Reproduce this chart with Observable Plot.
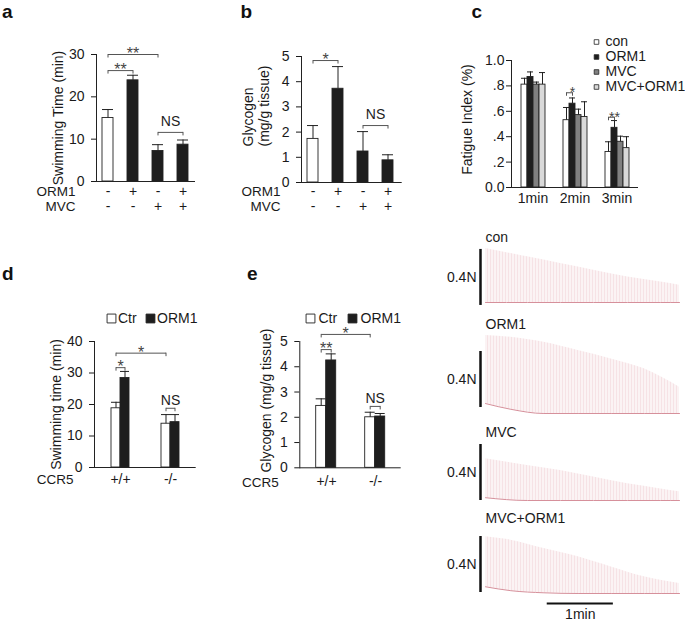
<!DOCTYPE html>
<html><head><meta charset="utf-8">
<script src="https://cdn.jsdelivr.net/npm/d3@7"></script>
<script src="https://cdn.jsdelivr.net/npm/@observablehq/plot@0.6"></script>
<style>
body{margin:0;background:#fff;}
#fig{position:relative;width:685px;height:621px;overflow:hidden;background:#fff;font-family:"Liberation Sans",Arial,sans-serif;}
#fig svg{position:absolute;left:0;top:0;}
.lbl{position:absolute;font-weight:bold;font-size:19px;line-height:1;color:#111;}
</style></head><body><div id="fig"></div>
<script>
// ---------------- DATA ----------------
// Panel a
const aCats = ["1","2","3","4"];
const aORM1 = ["-","+","-","+"];
const aMVC  = ["-","-","+","+"];
const aMean = [15.0, 23.9, 7.2, 8.7];
const aSEM  = [2.0, 1.2, 1.5, 1.1];
const aTicks = [0,10,20,30];
const aBrackets = [["1","3",30,"**"],["1","2",26.2,"**"],["3","4",11.6,"NS"]];
// Panel b
const bCats = ["1","2","3","4"];
const bORM1 = ["-","+","-","+"];
const bMVC  = ["-","-","+","+"];
const bMean = [1.73, 3.72, 1.23, 0.88];
const bSEM  = [0.53, 0.88, 0.79, 0.22];
const bTicks = [0,1,2,3,4,5];
const bBrackets = [["1","2",4.84,"*"],["3","4",2.26,"NS"]];
// Panel c
const cGroups = ["1min","2min","3min"];
const cSeries = ["con","ORM1","MVC","MVC+ORM1"];
const cMeanCon = [0.81, 0.53, 0.28];
const cMeanORM1 = [0.87, 0.66, 0.47];
const cMeanMVC = [0.81, 0.57, 0.36];
const cMeanMVCORM1 = [0.81, 0.555, 0.31];
const cSemCon = [0.05, 0.10, 0.08];
const cSemORM1 = [0.04, 0.045, 0.057];
const cSemMVC = [0.02, 0.047, 0.044];
const cSemMVCORM1 = [0.095, 0.12, 0.09];
const cTicks = [0, 0.2, 0.4, 0.6, 0.8, 1.0];
const cTickLabels = ["0.0", ".2", ".4", ".6", ".8", "1.0"];
const cBrackets = [["2min","con","2min","ORM1",0.746,"*"],["3min","con","3min","ORM1",0.553,"**"]];
// Panel d
const dGroups = ["+/+","-/-"];
const dSeries = ["Ctr","ORM1"];
const dCtrMean = [18.8, 13.9];
const dCtrSem  = [1.9, 2.9];
const dOrmMean = [28.4, 14.4];
const dOrmSem  = [2.1, 2.4];
const dTicks = [0,10,20,30,40];
const dBrackets = [["+/+","Ctr","-/-","Ctr",36.3,"*"],["+/+","Ctr","+/+","ORM1",31.7,"*"],["-/-","Ctr","-/-","ORM1",18.8,"NS"]];
// Panel e
const eGroups = ["+/+","-/-"];
const eSeries = ["Ctr","ORM1"];
const eCtrMean = [2.45, 2.0];
const eCtrSem  = [0.28, 0.2];
const eOrmMean = [4.25, 2.03];
const eOrmSem  = [0.26, 0.12];
const eTicks = [0,1,2,3,4,5];
const eBrackets = [["+/+","Ctr","-/-","Ctr",5.28,"*"],["+/+","Ctr","+/+","ORM1",4.68,"**"],["-/-","Ctr","-/-","ORM1",2.43,"NS"]];
// Force traces (N above final baseline, time in s)
const conT = [0, 38, 68, 98, 129, 159, 176];
const conPeak = [0.386, 0.326, 0.279, 0.231, 0.183, 0.147, 0.124];
const conBase = [0, 0, 0, 0, 0, 0, 0];
const orm1T = [0, 23, 53, 84, 114, 144, 176];
const orm1Peak = [0.557, 0.545, 0.509, 0.45, 0.39, 0.319, 0.188];
const orm1Base = [0.071, 0.03, 0, 0, 0, 0, 0];
const mvcT = [0, 38, 68, 98, 129, 159, 176];
const mvcPeak = [0.298, 0.25, 0.214, 0.167, 0.119, 0.083, 0.062];
const mvcBase = [0.02, 0, 0, 0, 0, 0, 0];
const mvcOrm1T = [0, 23, 53, 84, 114, 144, 176];
const mvcOrm1Peak = [0.405, 0.381, 0.321, 0.262, 0.19, 0.119, 0.072];
const mvcOrm1Base = [0.048, 0.02, 0.005, 0, 0, 0, 0];
const traceNames = ["con","ORM1","MVC","MVC+ORM1"];
const forceScale = 0.4, forceScaleLabel = "0.4N";
const timeScale = 60, timeScaleLabel = "1min", timeScaleStart = 56;

// ---------------- HELPERS ----------------
const FW = 685, FH = 621;
const FONT = '"Liberation Sans", Arial, Helvetica, sans-serif';
const fig = document.getElementById("fig");
const baseStyle = {background:"transparent", fontFamily:FONT, fontSize:"14px", color:"#1a1a1a", overflow:"visible"};
const INK = "#222";
const intFmt = d => String(d);
function box(L,R,T,B){ return {width:FW, height:FH, marginLeft:L, marginRight:FW-R, marginTop:T, marginBottom:FH-B}; }
function add(svg){ fig.appendChild(svg); return svg; }
function letter(ch, x, y){ const d=document.createElement("div"); d.className="lbl"; d.textContent=ch; d.style.left=x+"px"; d.style.top=y+"px"; fig.appendChild(d); }

function overlay(o){
  const dropU = o.ymax*3.5/(o.B-o.T);
  const br = o.brackets.map(b => ({...b, tx: b.tx ?? (b.x1+b.x2)/2}));
  const ast = br.filter(b=>b.label!=="NS"), ns = br.filter(b=>b.label==="NS");
  const marks = [
    Plot.frame({anchor:"left", stroke:INK}),
    Plot.ruleY([0], {stroke:INK}),
    Plot.link(br, {x1:"x1", x2:"x2", y1:"y", y2:"y", stroke:"#555"}),
    Plot.ruleX(br, {x:"x1", y1:"y", y2:d=>d.y-dropU, stroke:"#555"}),
    Plot.ruleX(br, {x:"x2", y1:"y", y2:d=>d.y-dropU, stroke:"#555"}),
    Plot.text(ast, {x:"tx", y:"y", text:"label", lineAnchor:"bottom", dy:o.astDy ?? 4.5, fontSize:o.astSize ?? 16, fill:"#444"}),
    Plot.text(ns, {x:"tx", y:"y", text:"label", lineAnchor:"bottom", dy:o.nsDy ?? -6, fill:INK}),
    ...o.labels.map(l => Plot.text([l.text], {frameAnchor:"left", rotate:-90, dx:l.dx, dy:l.dy, textAnchor:l.anchor||"middle", lineAnchor:"middle"})),
    ...(o.extra||[])
  ];
  return add(Plot.plot({...box(o.L,o.R,o.T,o.B), style:baseStyle,
    x:{type:"identity", axis:null},
    y:{domain:[0,o.ymax], ticks:o.ticks, tickFormat:o.tickFormat ?? intFmt, tickSize:5, tickPadding:o.tickPadding ?? 7, label:null},
    marks}));
}

// ---------------- PANELS a, b ----------------
function simplePanel(p){
  const rows = p.cats.map((c,i)=>({cat:c, orm1:p.orm1[i], mvc:p.mvc[i], mean:p.mean[i], sem:p.sem[i],
    grp:(p.orm1[i]==="-"&&p.mvc[i]==="-")?"control":"treated"}));
  const plot = add(Plot.plot({...box(p.L,p.R,p.T,p.B), style:baseStyle,
    x:{type:"band", domain:p.cats, range:p.xr, paddingInner:p.pin, paddingOuter:0, axis:null},
    y:{domain:[0,p.ymax], axis:null},
    color:{domain:["control","treated"], range:["#ffffff","#1e1e1e"]},
    marks:[
      Plot.barY(rows, {x:"cat", y:"mean", fill:"grp", stroke:INK, strokeWidth:0.9}),
      Plot.ruleX(rows, {x:"cat", y1:"mean", y2:d=>d.mean+d.sem, stroke:INK}),
      Plot.tickY(rows, {x:"cat", y:d=>d.mean+d.sem, stroke:INK}),
      Plot.text(rows, {x:"cat", text:"orm1", frameAnchor:"bottom", dy:p.r1}),
      Plot.text(rows, {x:"cat", text:"mvc", frameAnchor:"bottom", dy:p.r2}),
      Plot.text(["ORM1"], {frameAnchor:"bottom-left", dx:p.rowDx, dy:p.r1, textAnchor:"end", fontSize:13.5}),
      Plot.text(["MVC"], {frameAnchor:"bottom-left", dx:p.rowDx, dy:p.r2, textAnchor:"end", fontSize:13.5})
    ]}));
  const xs = plot.scale("x");
  const pos = c => xs.apply(c) + xs.bandwidth/2;
  overlay({L:p.L,R:p.R,T:p.T,B:p.B, ymax:p.ymax, ticks:p.ticks,
    brackets:p.brackets.map(([f,t,y,l])=>({x1:pos(f), x2:pos(t), y, label:l})),
    labels:p.labels, nsDy:p.nsDy});
}
simplePanel({cats:aCats, orm1:aORM1, mvc:aMVC, mean:aMean, sem:aSEM, ticks:aTicks, brackets:aBrackets,
  L:96, R:195, T:54, B:181, ymax:30, xr:[101.7,188], pin:0.56, r1:14, r2:29, rowDx:-21, nsDy:-6.5,
  labels:[{text:"Swimming Time (min)", dx:-38, dy:0}]});
simplePanel({cats:bCats, orm1:bORM1, mvc:bMVC, mean:bMean, sem:bSEM, ticks:bTicks, brackets:bBrackets,
  L:301, R:401.7, T:56, B:182, ymax:5, xr:[306,393.7], pin:0.55, r1:13.5, r2:28.5, rowDx:-21, nsDy:-6.5,
  labels:[{text:"Glycogen", dx:-53, dy:27, anchor:"start"},{text:"(mg/g tissue)", dx:-37, dy:27, anchor:"start"}]});

// ---------------- GROUPED PANELS (c, d, e) ----------------
function groupedPanel(p){
  const rows = p.groups.flatMap((g,gi)=>p.series.map((s,si)=>({g, s, mean:p.means[si][gi], sem:p.sems[si][gi]})));
  const plot = add(Plot.plot({...box(p.L,p.R,p.T,p.B), style:baseStyle,
    fx:{domain:p.groups, range:p.fxr, paddingInner:p.pin, paddingOuter:0, axis:null, label:null},
    x:{domain:p.series, paddingInner:0, paddingOuter:0, axis:null},
    y:{domain:[0,p.ymax], axis:null},
    color:{domain:p.series, range:p.colors},
    marks:[
      Plot.barY(rows, {fx:"g", x:"s", y:"mean", fill:"s", stroke:INK, strokeWidth:0.9}),
      Plot.ruleX(rows, {fx:"g", x:"s", y1:"mean", y2:d=>d.mean+d.sem, stroke:INK}),
      Plot.tickY(rows, {fx:"g", x:"s", y:d=>d.mean+d.sem, stroke:INK}),
      Plot.text(p.groups, {fx:d=>d, text:d=>d, frameAnchor:"bottom", dy:p.gDy})
    ]}));
  const fxs = plot.scale("fx"), xs = plot.scale("x");
  const x0 = Math.min(...xs.range);
  const pos = (g,s) => fxs.apply(g) + xs.apply(s) - x0 + xs.bandwidth/2;
  overlay({L:p.L,R:p.R,T:p.T,B:p.B, ymax:p.ymax, ticks:p.ticks, tickFormat:p.tickFormat, tickPadding:p.tickPadding,
    brackets:p.brackets.map(([g1,s1,g2,s2,y,l])=>({x1:pos(g1,s1), x2:pos(g2,s2), y, label:l, tx:p.textAtEnd?pos(g2,s2):undefined})),
    labels:p.labels, nsDy:p.nsDy, astSize:p.astSize, extra:p.extra});
}
groupedPanel({groups:cGroups, series:cSeries,
  means:[cMeanCon,cMeanORM1,cMeanMVC,cMeanMVCORM1], sems:[cSemCon,cSemORM1,cSemMVC,cSemMVCORM1],
  colors:["#ffffff","#1e1e1e","#808080","#d9d9d9"], ticks:cTicks, tickFormat:d=>cTickLabels[cTicks.indexOf(d)], tickPadding:2,
  brackets:cBrackets, textAtEnd:true, astSize:14,
  L:511, R:638, T:60, B:187, ymax:1, fxr:[520,630], pin:0.393, gDy:15,
  labels:[{text:"Fatigue Index (%)", dx:-43.5, dy:-4.5}]});
groupedPanel({groups:dGroups, series:dSeries, means:[dCtrMean,dOrmMean], sems:[dCtrSem,dOrmSem],
  colors:["#ffffff","#1e1e1e"], ticks:dTicks, brackets:dBrackets, nsDy:-3,
  L:94, R:195.7, T:341, B:467, ymax:40, fxr:[109.3,180.7], pin:0.592, gDy:16,
  labels:[{text:"Swimming time (min)", dx:-38, dy:0}],
  extra:[Plot.text(["CCR5"], {frameAnchor:"bottom-left", dx:-21, dy:16.5, textAnchor:"end", fontSize:13.5})]});
groupedPanel({groups:eGroups, series:eSeries, means:[eCtrMean,eOrmMean], sems:[eCtrSem,eOrmSem],
  colors:["#ffffff","#1e1e1e"], ticks:eTicks, brackets:eBrackets, nsDy:-3,
  L:299.3, R:400.7, T:341, B:467.3, ymax:5, fxr:[315,385.7], pin:0.586, gDy:18,
  labels:[{text:"Glycogen (mg/g tissue)", dx:-33.3, dy:-4}],
  extra:[Plot.text(["CCR5"], {frameAnchor:"bottom-left", dx:-21, dy:19, textAnchor:"end", fontSize:13.5})]});

// ---------------- LEGENDS ----------------
function hLegend(items, colors, x0, x1, yc, tdx){
  add(Plot.plot({width:FW, height:FH, marginLeft:0, marginRight:0, marginTop:yc-5, marginBottom:FH-yc-5, style:baseStyle,
    x:{type:"point", domain:items, range:[x0,x1], padding:0, axis:null},
    color:{domain:items, range:colors},
    marks:[
      Plot.dot(items, {x:d=>d, frameAnchor:"middle", symbol:"square", r:5, fill:d=>d, stroke:INK, strokeWidth:0.9}),
      Plot.text(items, {x:d=>d, frameAnchor:"middle", text:d=>d, textAnchor:"start", dx:tdx})
    ]}));
}
hLegend(dSeries, ["#ffffff","#1e1e1e"], 110.5, 150.3, 318, 6.5);
hLegend(eSeries, ["#ffffff","#1e1e1e"], 310, 352.5, 318, 8);
add(Plot.plot({width:FW, height:FH, marginLeft:596, marginRight:FW-640, marginTop:33, marginBottom:FH-95, style:baseStyle,
  y:{type:"band", domain:cSeries, paddingInner:0, paddingOuter:0, axis:null},
  color:{domain:cSeries, range:["#ffffff","#1e1e1e","#808080","#d9d9d9"]},
  marks:[
    Plot.dot(cSeries, {y:d=>d, frameAnchor:"left", symbol:"square", r:2.6, fill:d=>d, stroke:INK, strokeWidth:0.8}),
    Plot.text(cSeries, {y:d=>d, frameAnchor:"left", text:d=>d, textAnchor:"start", dx:9})
  ]}));

// ---------------- TRACES ----------------
function tracePlot(k, name, T, peak, base, zeroPx, labelPx, barLo, withTime){
  const rows = T.map((t,i)=>({t, peak:peak[i], base:base[i]}));
  const pid = "twitch" + k;
  const defs = () => {
    const el = document.createElementNS("http://www.w3.org/2000/svg", "defs");
    el.innerHTML = `<pattern id="${pid}" width="3" height="20" patternUnits="userSpaceOnUse">
      <rect width="3" height="20" fill="#fbf3f4"/>
      <rect x="1" width="1" height="20" fill="#f6e2e5"/></pattern>`;
    return el;
  };
  const marks = [
    defs,
    Plot.areaY(rows, {x:"t", y1:"base", y2:"peak", fill:`url(#${pid})`, curve:"monotone-x"}),
    Plot.line(rows, {x:"t", y:"base", stroke:"#d6909b", strokeWidth:1, curve:"monotone-x"}),
    Plot.ruleX([0], {y1:barLo, y2:barLo+forceScale, dx:-5, stroke:"#111", strokeWidth:2.5}),
    Plot.text([forceScaleLabel], {x:0, y:barLo+forceScale/2, dx:-9, textAnchor:"end"}),
    Plot.text([name], {frameAnchor:"top-left", textAnchor:"start", lineAnchor:"middle"})
  ];
  if (withTime) {
    marks.push(Plot.ruleY([0], {x1:timeScaleStart, x2:timeScaleStart+timeScale, dy:10, stroke:"#111", strokeWidth:2}));
    marks.push(Plot.text([timeScaleLabel], {x:timeScaleStart+timeScale/2, y:0, dy:21}));
  }
  add(Plot.plot({width:FW, height:FH, marginLeft:485, marginRight:6, marginTop:labelPx, marginBottom:FH-zeroPx, style:baseStyle,
    x:{domain:[0,176], axis:null},
    y:{domain:[0,1], range:[zeroPx, zeroPx-140], axis:null},
    marks}));
}
tracePlot(0, traceNames[0], conT, conPeak, conBase, 302, 237, -0.021, false);
tracePlot(1, traceNames[1], orm1T, orm1Peak, orm1Base, 413, 324, 0.043, false);
tracePlot(2, traceNames[2], mvcT, mvcPeak, mvcBase, 500, 432, 0, false);
tracePlot(3, traceNames[3], mvcOrm1T, mvcOrm1Peak, mvcOrm1Base, 593, 518, 0.007, true);

// ---------------- PANEL LETTERS ----------------
letter("a", 2, 2); letter("b", 240.5, 2); letter("c", 471.5, 2);
letter("d", 2, 264); letter("e", 247, 264);
</script></body></html>
